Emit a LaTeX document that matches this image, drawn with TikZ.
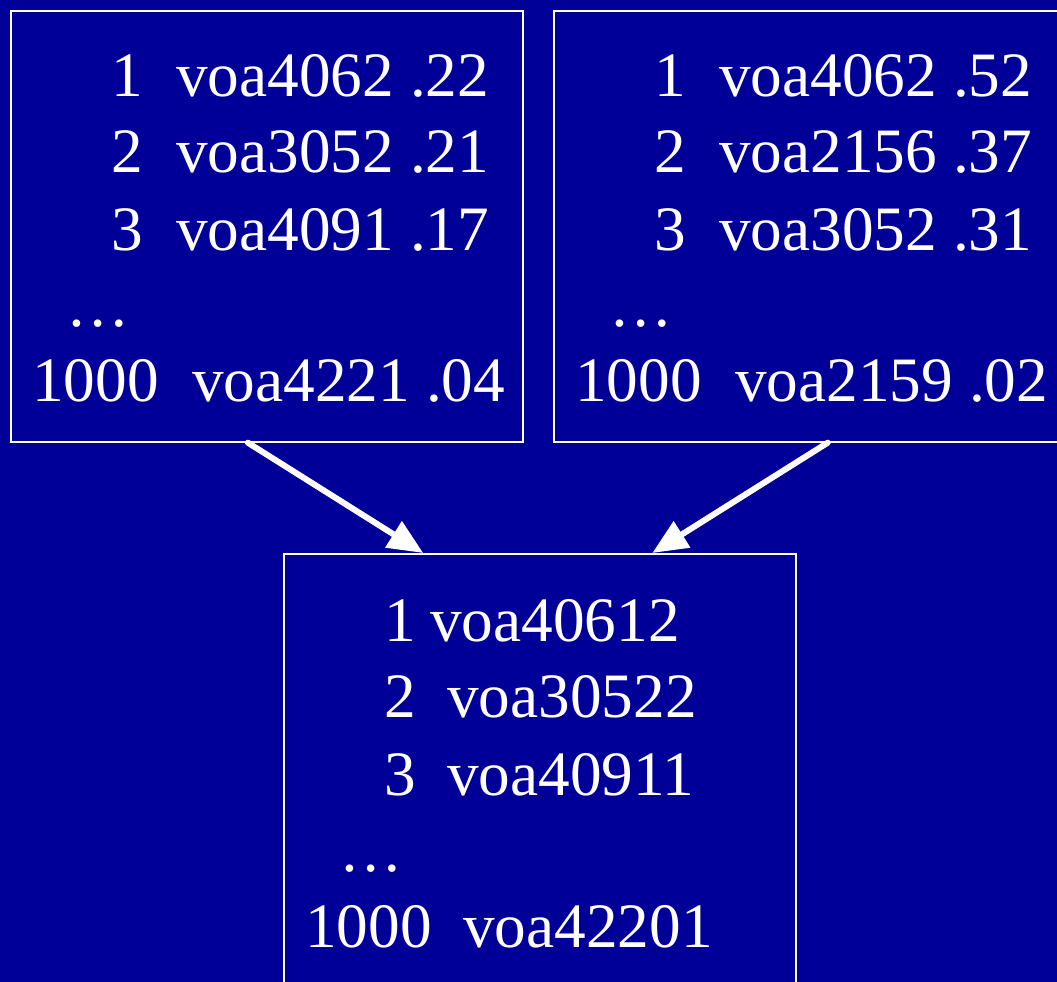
\documentclass[tikz,border=0pt]{standalone}
\usepackage{fontspec}
\setmainfont{Liberation Serif}
\usetikzlibrary{calc,arrows.meta}
\definecolor{slidebg}{RGB}{0,0,153}

\tikzset{
  rank box/.style={draw=white, line width=1pt, inner sep=0pt, anchor=north west,
    minimum width=10.24cm, minimum height=8.62cm},
  entry/.style={text=white, inner sep=0pt, anchor=base west,
    font=\fontsize{36}{40}\selectfont},
  merge/.style={draw=white, line width=3.4pt, line cap=round,
    -{Triangle[length=20pt,width=17pt]}}
}

\begin{document}
\begin{tikzpicture}[x=0.02cm, y=-0.02cm]
  \useasboundingbox (0,0) rectangle (1057,982);
  \fill[slidebg] (0,0) rectangle (1057,982);
  \clip (0,0) rectangle (1057,982);

  % first ranked list
  \node[rank box] (runA) at (10,10) {};
  \foreach \i/\y/\r in {1/87/voa4062 .22, 2/163/voa3052 .21, 3/241/voa4091 .17}{
    \node[entry] (runA n\i) at ($(runA.north west)+(101.5,\y)$) {\i};
    \node[entry] (runA d\i) at ($(runA.north west)+(166,\y)$) {\r};
  }
  \node[entry] (runA dots) at ($(runA.north west)+(56,317)$) {\ldots};
  \node[entry] (runA nlast) at ($(runA.north west)+(22,392)$) {1000};
  \node[entry] (runA dlast) at ($(runA.north west)+(182,392)$) {voa4221 .04};

  % second ranked list
  \node[rank box] (runB) at (553,10) {};
  \foreach \i/\y/\r in {1/87/voa4062 .52, 2/163/voa2156 .37, 3/241/voa3052 .31}{
    \node[entry] (runB n\i) at ($(runB.north west)+(101.5,\y)$) {\i};
    \node[entry] (runB d\i) at ($(runB.north west)+(166,\y)$) {\r};
  }
  \node[entry] (runB dots) at ($(runB.north west)+(56,317)$) {\ldots};
  \node[entry] (runB nlast) at ($(runB.north west)+(22,392)$) {1000};
  \node[entry] (runB dlast) at ($(runB.north west)+(182,392)$) {voa2159 .02};

  % fused list
  \node[rank box] (fused) at (283,553) {};
  \node[entry] (fused n1) at ($(fused.north west)+(101.5,88)$) {1};
  \node[entry] (fused d1) at ($(fused.north west)+(147,88)$) {voa40612};
  \foreach \i/\y/\r in {2/164/voa30522, 3/242/voa40911}{
    \node[entry] (fused n\i) at ($(fused.north west)+(101.5,\y)$) {\i};
    \node[entry] (fused d\i) at ($(fused.north west)+(164,\y)$) {\r};
  }
  \node[entry] (fused dots) at ($(fused.north west)+(56,318)$) {\ldots};
  \node[entry] (fused nlast) at ($(fused.north west)+(22,394)$) {1000};
  \node[entry] (fused dlast) at ($(fused.north west)+(180,394)$) {voa42201};

  \draw[merge] ($(runA.south west)!0.463!(runA.south east)$)
    -- ($(fused.north west)!0.273!(fused.north east)$);
  \draw[merge] ($(runB.south west)!0.535!(runB.south east)$)
    -- ($(fused.north west)!0.719!(fused.north east)$);
\end{tikzpicture}
\end{document}
